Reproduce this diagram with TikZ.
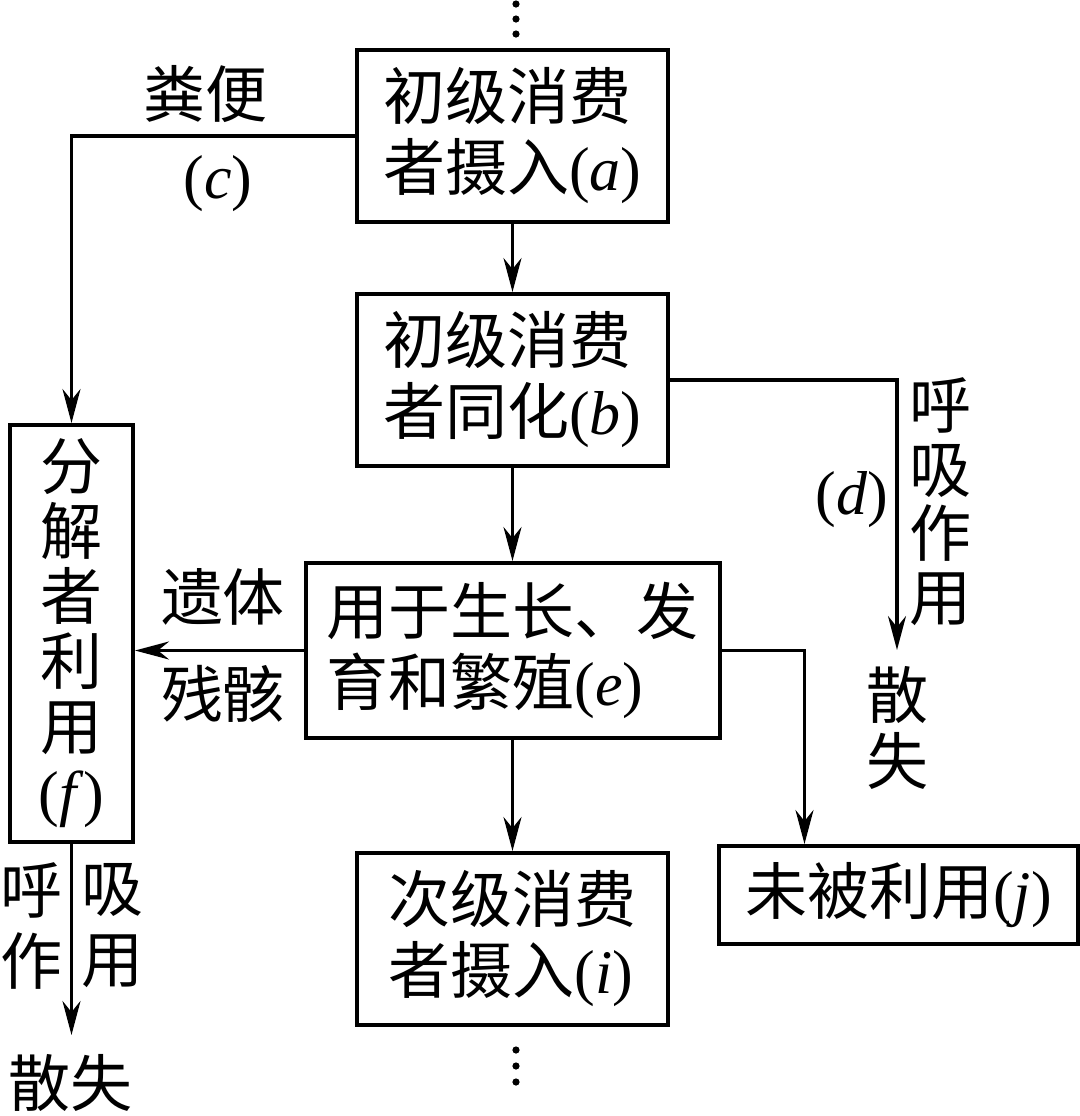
\documentclass[tikz,border=0pt]{standalone}
\usepackage{fontspec}
\setmainfont{Liberation Serif}
\newfontfamily\cjk{Noto Sans CJK SC}
\usetikzlibrary{arrows.meta,positioning}
\newcommand\elab[1]{{\rmfamily(\textit{#1})}}

\begin{document}
\begin{tikzpicture}[
  x=0.5pt, y=-0.5pt,
  >={Stealth[length=17pt,width=9pt]},
  every node/.style={font=\cjk\fontsize{31}{35.5}\selectfont, inner sep=0pt},
  flow/.style={->, line width=1.6pt},
  blk/.style={draw, line width=2pt, minimum width=155.5pt, minimum height=86pt,
              align=left},
  vtxt/.style={align=center, font=\cjk\fontsize{31}{32}\selectfont}
]
  \useasboundingbox (0,0) rectangle (1080,1116);
  % main chain
  \node[blk] (a) at (512.5,136) {初级消费\\者摄入\elab{a}};
  \node[blk, below=34pt of a] (b) {初级消费\\者同化\elab{b}};
  \node[blk, minimum width=207pt, minimum height=87.5pt, below=46.5pt of b] (e)
    {用于生长、发\\育和繁殖\elab{e}};
  \node[blk, below=55.5pt of e] (i) {次级消费\\者摄入\elab{i}};
  \node[blk, minimum width=179.5pt, minimum height=49pt] (j) at (898.5,895)
    {未被利用\elab{j}};
  \node[blk, minimum width=61.5pt, minimum height=208.5pt, align=center,
        font=\cjk\fontsize{31}{32.5}\selectfont] (f) at (71.5,633.5)
    {分\\解\\者\\利\\用\\\elab{f}};
  % labels
  \node (feces) at (205,94) {粪便};
  \node (c) at (218,184) {\elab{c}};
  \node (remA) at (223,597) {遗体};
  \node (remB) at (223,694) {残骸};
  \node[vtxt] (respR) at (940,502) {呼\\吸\\作\\用};
  \node (d) at (852,500) {\elab{d}};
  \node[vtxt, font=\cjk\fontsize{31}{33}\selectfont] (lossR) at (897,728) {散\\失};
  \node[vtxt, font=\cjk\fontsize{31}{35.5}\selectfont] (respL) at (31,926) {呼\\作};
  \node[vtxt, font=\cjk\fontsize{31}{35.5}\selectfont] (respL2) at (113,926) {吸\\用};
  \node (lossL) at (71,1083) {散失};
  \coordinate (dend) at (897,650);
  \coordinate (fend) at (71.5,1035);
  % connectors
  \draw[flow] (a) -- (b);
  \draw[flow] (b) -- (e);
  \draw[flow] (e) -- (i);
  \draw[flow] (a.west) -| (f.north);
  \draw[flow] (b.east) -| (dend);
  \draw[flow] (e.east) -| ([xshift=-47pt]j.north);
  \draw[flow] (e.west) -- (e.west -| f.east);
  \draw[flow] (f.south) -- (fend);
  % dots
  \foreach \yy in {4,19,34,1050,1066,1082}
    \fill (516,\yy) circle (1.8pt);
\end{tikzpicture}
\end{document}
